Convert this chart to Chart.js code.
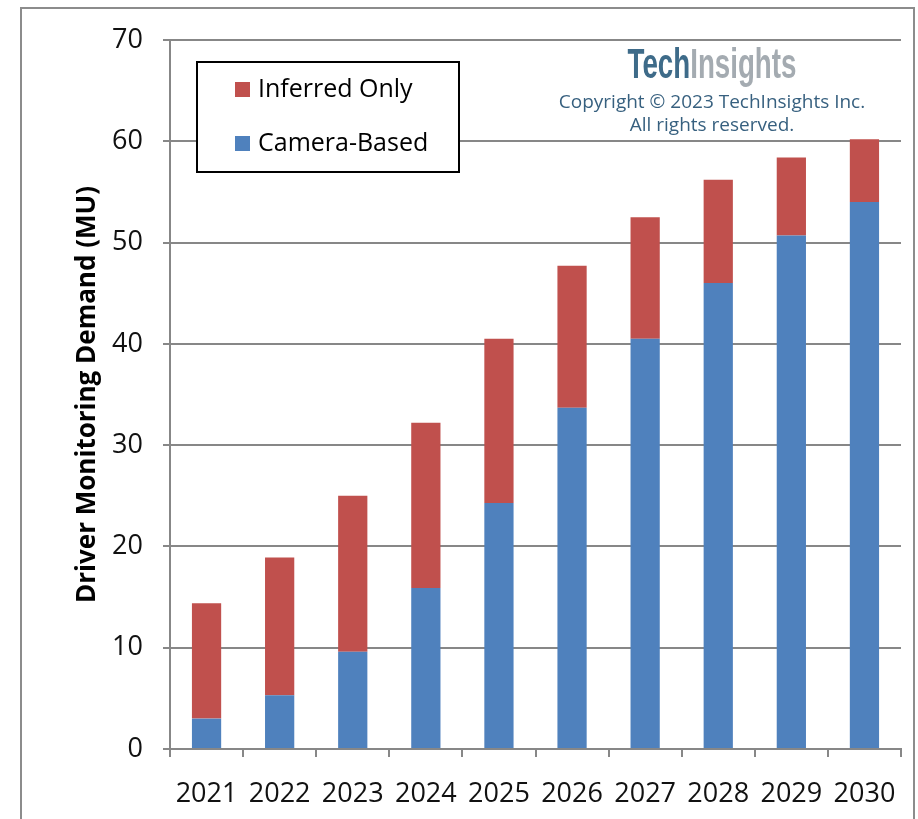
<!DOCTYPE html>
<html>
<head>
<meta charset="utf-8">
<script src="https://cdn.jsdelivr.net/npm/chart.js@4.4.1/dist/chart.umd.min.js"></script>
<style>
  html, body { margin: 0; padding: 0; background: #fff; }
  #wrap { width: 918px; height: 819px; }
</style>
</head>
<body>
<div id="wrap"><canvas id="dmsChart" width="918" height="819"></canvas></div>
<script>
/* ===== DATA ===== */

const years = ['2021', '2022', '2023', '2024', '2025', '2026', '2027', '2028', '2029', '2030'];

// Camera-based driver monitoring (MU)
const cameraBased = [3.0, 5.3, 9.6, 15.9, 24.3, 33.7, 40.5, 46.0, 50.7, 54.0];

// Inferred-only driver monitoring (MU), stacked on top
const inferredOnly = [11.4, 13.6, 15.4, 16.3, 16.2, 14.0, 12.0, 10.2, 7.7, 6.2];

const yTicks = [0, 10, 20, 30, 40, 50, 60, 70];

/* ===== HELPERS ===== */

const FONT = '"Open Sans", "DejaVu Sans", sans-serif';
const GRID = '#878787';
const RED = '#c0504d';
const BLUE = '#4f81bd';

// Outer frame of the picture
const framePlugin = {
  id: 'frame',
  beforeDraw(chart) {
    const { ctx } = chart;
    ctx.save();
    ctx.strokeStyle = '#8c8c8c';
    ctx.lineWidth = 2;
    ctx.beginPath();
    ctx.moveTo(21, 830);
    ctx.lineTo(21, 8);
    ctx.lineTo(914, 8);
    ctx.lineTo(914, 830);
    ctx.stroke();
    ctx.restore();
  }
};

// Boxed legend inside the plot, inferred first
const boxLegendPlugin = {
  id: 'boxLegend',
  afterDatasetsDraw(chart) {
    const { ctx, chartArea } = chart;
    const x = chartArea.left + 27;
    const y = chartArea.top + 22;
    const w = 262, h = 110;
    ctx.save();
    ctx.fillStyle = '#fff';
    ctx.fillRect(x, y, w, h);
    ctx.strokeStyle = '#000';
    ctx.lineWidth = 2;
    ctx.strokeRect(x, y, w, h);

    const items = chart.data.datasets.slice().reverse();
    ctx.font = '25px ' + FONT;
    ctx.textBaseline = 'middle';
    items.forEach((ds, i) => {
      const cy = y + 28 + i * 54;
      ctx.fillStyle = ds.backgroundColor;
      ctx.fillRect(x + 38, cy - 8, 15, 15);
      ctx.fillStyle = '#000';
      ctx.fillText(ds.label, x + 61, cy);
    });
    ctx.restore();
  }
};

// TechInsights mark and copyright
const watermarkPlugin = {
  id: 'watermark',
  afterDatasetsDraw(chart) {
    const { ctx } = chart;
    ctx.save();
    // logo, condensed
    ctx.font = 'bold 42px "Liberation Sans", Arial, sans-serif';
    ctx.textBaseline = 'alphabetic';
    const sx = 0.66;
    const wTech = ctx.measureText('Tech').width * sx;
    const wIns = ctx.measureText('Insights').width * sx;
    const x0 = 712 - (wTech + wIns) / 2;
    ctx.translate(x0, 78);
    ctx.scale(sx, 1);
    ctx.fillStyle = '#3e6b89';
    ctx.fillText('Tech', 0, 0);
    ctx.fillStyle = '#a4abb1';
    ctx.fillText('Insights', wTech / sx, 0);
    ctx.restore();

    ctx.save();
    ctx.font = '19px ' + FONT;
    ctx.fillStyle = '#37607f';
    ctx.textAlign = 'center';
    ctx.textBaseline = 'alphabetic';
    ctx.fillText('Copyright \u00a9 2023 TechInsights Inc.', 712, 108);
    ctx.fillText('All rights reserved.', 712, 131);
    ctx.restore();
  }
};

/* ===== CHART ===== */

(function() {
  const ctx = document.getElementById('dmsChart');

  new Chart(ctx, {
    type: 'bar',
    data: {
      labels: years,
      datasets: [
        {
          label: 'Camera-Based',
          data: cameraBased,
          backgroundColor: BLUE,
          borderWidth: 0,
        },
        {
          label: 'Inferred Only',
          data: inferredOnly,
          backgroundColor: RED,
          borderWidth: 0,
        },
      ]
    },
    options: {
      responsive: false,
      animation: false,
      devicePixelRatio: 1,
      layout: { padding: { left: 0, top: 40, right: 17, bottom: 0 } },
      datasets: { bar: { categoryPercentage: 1.0, barPercentage: 0.4 } },
      plugins: {
        legend: { display: false },
        tooltip: { enabled: false }
      },
      scales: {
        x: {
          stacked: true,
          offset: true,
          grid: {
            offset: true,
            drawOnChartArea: false,
            drawTicks: true,
            tickLength: 8,
            color: GRID,
            lineWidth: 2,
          },
          border: { display: true, color: GRID, width: 2 },
          ticks: {
            font: { family: FONT, size: 27 },
            color: '#111',
            maxRotation: 0,
            autoSkip: false,
            padding: 21,
          },
          afterFit(scale) { scale.height = 70; }
        },
        y: {
          stacked: true,
          min: 0,
          max: 70,
          afterBuildTicks(scale) { scale.ticks = yTicks.map(v => ({ value: v })); },
          grid: {
            color: GRID,
            lineWidth: 2,
            drawTicks: true,
            tickLength: 7,
          },
          border: { display: true, color: GRID, width: 2 },
          ticks: {
            font: { family: FONT, size: 27 },
            color: '#111',
            padding: 20,
          },
          title: {
            display: true,
            text: 'Driver Monitoring Demand (MU)',
            font: { family: FONT, size: 26, weight: 'bold' },
            color: '#000',
            padding: { top: 72, bottom: 0 },
          },
          afterFit(scale) { scale.width = 170; }
        }
      }
    },
    plugins: [framePlugin, boxLegendPlugin, watermarkPlugin]
  });
})();
</script>
</body>
</html>
